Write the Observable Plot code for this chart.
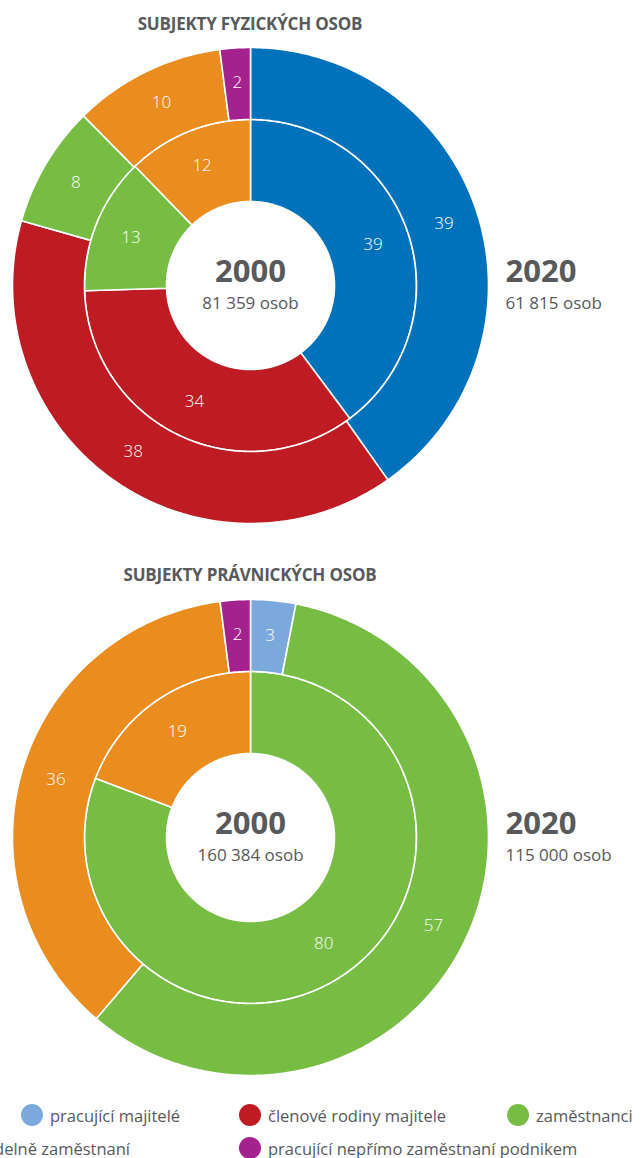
<!DOCTYPE html>
<html>
<head>
<meta charset="utf-8">
<script src="https://cdn.jsdelivr.net/npm/d3@7"></script>
<script src="https://cdn.jsdelivr.net/npm/@observablehq/plot@0.6"></script>
<style>
  html, body { margin: 0; padding: 0; background: #fff; }
  body { width: 643px; height: 1158px; overflow: hidden; position: relative; font-family: "Open Sans", "Noto Sans", sans-serif; color: #58595b; }
  .title { position: absolute; left: 0; width: 500px; text-align: center; font-weight: 700; font-size: 17px; line-height: 20px; color: #58595b; letter-spacing: -0.2px; }
  .chart { position: absolute; left: 0; }
  .legend-item { position: absolute; display: flex; align-items: center; white-space: nowrap; font-size: 16.5px; color: #58595b; height: 24px; }
  .legend-item .sw { width: 22px; height: 22px; border-radius: 50%; margin-right: 7px; flex: none; }
</style>
</head>
<body>
<div class="title" style="top:14px">SUBJEKTY FYZICKÝCH OSOB</div>
<div class="chart" id="c1" style="top:40px"></div>
<div class="title" style="top:565px">SUBJEKTY PRÁVNICKÝCH OSOB</div>
<div class="chart" id="c2" style="top:592px"></div>
<div id="legend"></div>
<script>
// ---- data ----
const categories = [
  "pracující majitelé",
  "členové rodiny majitele",
  "zaměstnanci",
  "nepravidelně zaměstnaní",
  "pracující nepřímo zaměstnaní podnikem"
];
const years = ["2000", "2020"];

// subjekty fyzických osob (shares in %, order = categories)
const fyzInner2000 = [39, 34, 13, 12, 0];
const fyzOuter2020 = [39, 38, 8, 10, 2];
const fyzTotals = ["81 359 osob", "61 815 osob"];
const fyzColors = ["#0072bc", "#be1b23", "#77bd43", "#eb8c1e", "#a3228e"];

// subjekty právnických osob
const pravInner2000 = [0, 0, 80, 19, 0];
const pravOuter2020 = [3, 0, 57, 36, 2];
const pravTotals = ["160 384 osob", "115 000 osob"];
const pravColors = ["#7ca9dc", "#be1b23", "#77bd43", "#eb8c1e", "#a3228e"];

const legendColors = ["#7ca9dc", "#be1b23", "#77bd43", "#eb8c1e", "#a3228e"];

// ---- geometry helpers ----
const R_HOLE = 84, R_MID = 166, R_OUT = 238;
const L_IN = 129, L_OUT = 203;

function ring(vals, r0, r1, rl, tag) {
  const total = d3.sum(vals);
  const pts = [], labels = [];
  let cum = 0;
  vals.forEach((v, i) => {
    if (v <= 0) return;
    const a0 = cum / total * 2 * Math.PI;
    const a1 = (cum + v) / total * 2 * Math.PI;
    cum += v;
    const n = Math.max(2, Math.ceil((a1 - a0) / (Math.PI / 240)));
    const id = tag + i;
    for (let k = 0; k <= n; k++) {
      const a = a0 + (a1 - a0) * k / n;
      pts.push({id, cat: categories[i], x: r1 * Math.sin(a), y: -r1 * Math.cos(a)});
    }
    for (let k = n; k >= 0; k--) {
      const a = a0 + (a1 - a0) * k / n;
      pts.push({id, cat: categories[i], x: r0 * Math.sin(a), y: -r0 * Math.cos(a)});
    }
    const m = (a0 + a1) / 2;
    labels.push({x: rl * Math.sin(m), y: -rl * Math.cos(m), text: String(v)});
  });
  return {pts, labels};
}

function donut(inner, outer, colors, totals) {
  const a = ring(inner, R_HOLE, R_MID, L_IN, "in");
  const b = ring(outer, R_MID, R_OUT, L_OUT, "out");
  const centerText = [
    {x: 0, y: -13, text: years[0]},
    {x: 0, y: 18, text: totals[0]},
  ];
  const sideText = [
    {x: 255, y: -13, text: years[1]},
    {x: 255, y: 18, text: totals[1]},
  ];
  return Plot.plot({
    width: 643,
    height: 490,
    margin: 0,
    x: {domain: [-250, 393], axis: null},
    y: {domain: [-245, 245], range: [0, 490], axis: null},
    color: {domain: categories, range: colors},
    style: {fontFamily: '"Open Sans", "Noto Sans", sans-serif', background: "transparent"},
    marks: [
      Plot.line(a.pts, {x: "x", y: "y", z: "id", fill: "cat", stroke: "white", strokeWidth: 1.6, curve: "linear-closed"}),
      Plot.line(b.pts, {x: "x", y: "y", z: "id", fill: "cat", stroke: "white", strokeWidth: 1.6, curve: "linear-closed"}),
      Plot.text(a.labels.concat(b.labels), {x: "x", y: "y", text: "text", fill: "white", fontSize: 17, fontWeight: 300}),
      Plot.text(centerText.slice(0, 1), {x: "x", y: "y", text: "text", fill: "#58595b", fontSize: 31, fontWeight: 700}),
      Plot.text(centerText.slice(1), {x: "x", y: "y", text: "text", fill: "#58595b", fontSize: 17}),
      Plot.text(sideText.slice(0, 1), {x: "x", y: "y", text: "text", fill: "#58595b", fontSize: 31, fontWeight: 700, textAnchor: "start"}),
      Plot.text(sideText.slice(1), {x: "x", y: "y", text: "text", fill: "#58595b", fontSize: 17, textAnchor: "start"})
    ]
  });
}

document.getElementById("c1").append(donut(fyzInner2000, fyzOuter2020, fyzColors, fyzTotals));
document.getElementById("c2").append(donut(pravInner2000, pravOuter2020, pravColors, pravTotals));

// ---- legend ----
const legendPos = [
  {left: 21, top: 1103},
  {left: 239, top: 1103},
  {left: 507, top: 1103},
  {right: 513, top: 1136},
  {left: 239, top: 1136}
];
const legend = document.getElementById("legend");
categories.forEach((c, i) => {
  const el = document.createElement("div");
  el.className = "legend-item";
  const p = legendPos[i];
  el.style.top = p.top + "px";
  if (p.left != null) el.style.left = p.left + "px"; else el.style.right = p.right + "px";
  const sw = document.createElement("span");
  sw.className = "sw";
  sw.style.background = legendColors[i];
  const tx = document.createElement("span");
  tx.textContent = c;
  el.append(sw, tx);
  legend.append(el);
});
</script>
</body>
</html>
